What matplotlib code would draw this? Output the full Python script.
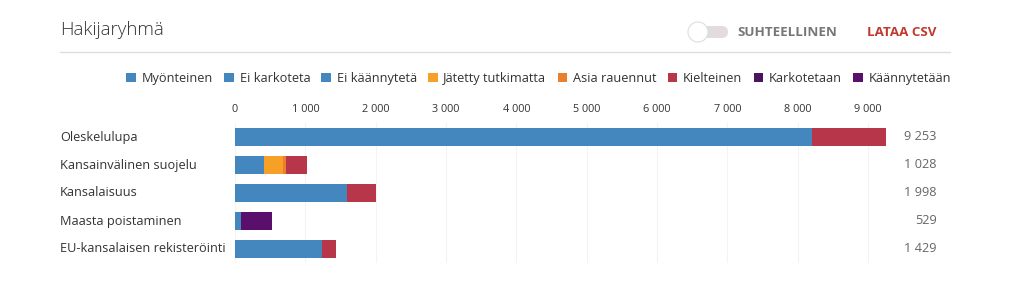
import matplotlib
matplotlib.use("Agg")
import matplotlib.pyplot as plt
from matplotlib.patches import FancyBboxPatch, Circle
import matplotlib.transforms as mtransforms
import numpy as np

plt.rcParams['font.family'] = ['Open Sans', 'DejaVu Sans']

categories = ["Oleskelulupa", "Kansainvälinen suojelu", "Kansalaisuus",
              "Maasta poistaminen", "EU-kansalaisen rekisteröinti"]
series_names = ["Myönteinen", "Ei karkoteta", "Ei käännytetä", "Jätetty tutkimatta",
                "Asia rauennut", "Kielteinen", "Karkotetaan", "Käännytetään"]
series_colors = ["#4387be", "#4387be", "#4387be", "#f7a028",
                 "#e8802f", "#b8364a", "#4a155e", "#5b0f6c"]
myonteinen = [8196, 418, 1591, 0, 1231]
ei_karkoteta = [0, 0, 0, 85, 0]
ei_kaannyteta = [0, 0, 0, 0, 0]
jatetty = [0, 260, 0, 0, 0]
rauennut = [0, 40, 0, 0, 0]
kielteinen = [1057, 310, 407, 0, 198]
karkotetaan = [0, 0, 0, 0, 0]
kaannytetaan = [0, 0, 0, 444, 0]
totals = [9253, 1028, 1998, 529, 1429]
ticks = [0, 1000, 2000, 3000, 4000, 5000, 6000, 7000, 8000, 9000]
tick_labels = ["0", "1 000", "2 000", "3 000", "4 000", "5 000", "6 000", "7 000", "8 000", "9 000"]

W, H = 1020, 293
fig = plt.figure(figsize=(W / 100, H / 100), dpi=100)

def fx(x): return x / W
def fy(y): return 1 - y / H

# main axes
left, right, top, bottom = 235, 886, 123, 263
ax = fig.add_axes([fx(left), fy(bottom), fx(right - left), (bottom - top) / H])
series = [myonteinen, ei_karkoteta, ei_kaannyteta, jatetty, rauennut,
          kielteinen, karkotetaan, kaannytetaan]
y = np.arange(len(categories))
cum = np.zeros(len(categories))
handles = []
for name, vals, col in zip(series_names, series, series_colors):
    vals = np.array(vals, dtype=float)
    b = ax.barh(y, vals, left=cum, height=0.64, color=col, label=name, zorder=3)
    handles.append(b)
    cum += vals
ax.set_xlim(0, totals[0])
ax.set_ylim(len(categories) - 0.5, -0.5)
ax.set_xticks(ticks)
ax.set_xticklabels(tick_labels)
ax.xaxis.tick_top()
ax.tick_params(axis='x', length=0, pad=6, labelsize=7.8, labelcolor="#333333")
ax.set_yticks(y)
ax.set_yticklabels([])
ax.tick_params(axis='y', length=0)
for s in ax.spines.values():
    s.set_visible(False)
ax.grid(axis='x', color="#f3f3f3", linewidth=0.8, zorder=0)
ax.set_axisbelow(True)

trans = mtransforms.blended_transform_factory(fig.transFigure, ax.transData)
for i, (cat, tot) in enumerate(zip(categories, totals)):
    ax.text(fx(60), i, cat, transform=trans, ha='left', va='center',
            fontsize=9.2, color="#333333", clip_on=False)
    ax.text(fx(937), i, f"{tot:,}".replace(",", " "), transform=trans, ha='right',
            va='center', fontsize=9.2, color="#666666", clip_on=False)

# header
fig.text(fx(60), fy(30), "Hakijaryhmä", fontsize=13.5, color="#333333", va='center',
         ha='left', fontweight='light')
fig.add_artist(plt.Line2D([fx(60), fx(950)], [fy(52), fy(52)], color="#dddddd", linewidth=1))

# toggle
ov = fig.add_axes([0, 0, 1, 1], zorder=-1)
ov.set_xlim(0, W)
ov.set_ylim(H, 0)
ov.axis('off')
ov.add_patch(FancyBboxPatch((693, 26), 35, 12, boxstyle="round,pad=0,rounding_size=6",
                            facecolor="#e3dbdc", edgecolor="none"))
ov.add_patch(Circle((698, 32), 10, facecolor="white", edgecolor="#dddddd", linewidth=0.8))
fig.text(fx(737), fy(32), "SUHTEELLINEN", fontsize=9.6, fontweight='bold', color="#777777",
         va='center', ha='left')
fig.text(fx(937), fy(32), "LATAA CSV", fontsize=9.6, fontweight='bold', color="#c0392b",
         va='center', ha='right')

# legend
fig.legend(handles=handles, labels=series_names, loc='center right',
           bbox_to_anchor=(fx(951), fy(78.5)), ncol=8, frameon=False, fontsize=9.2,
           handlelength=0.75, handleheight=0.75, handletextpad=0.45,
           columnspacing=0.88, borderaxespad=0, borderpad=0, labelcolor="#333333")

fig.savefig("out.png", dpi=100, facecolor="white")
